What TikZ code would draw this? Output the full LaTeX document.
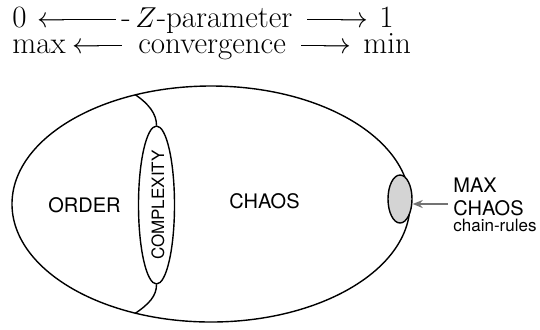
\documentclass[tikz,border=0pt]{standalone}
\usepackage{fontspec}
\newfontfamily\hv{TeX Gyre Heros}
\usetikzlibrary{arrows.meta,shapes.geometric}
\newcommand\arrbar[1]{\rule[3.55pt]{#1}{0.62pt}}
\tikzset{
  line/.style={line width=0.7pt},
  lab/.style={font=\hv\fontsize{10}{11}\selectfont, inner sep=0pt},
  labl/.style={lab, anchor=base west},
  toptext/.style={anchor=base west, inner sep=0pt, font=\fontsize{15.5}{18}\selectfont},
  ell/.style={line, draw, ellipse, inner sep=0pt},
}
\begin{document}
\begin{tikzpicture}[x=0.5pt,y=-0.5pt]
\useasboundingbox (0,0) rectangle (540,329);
% first line
\node[toptext] (z0) at (12,27) {0};
\node[toptext] (zl) at (37,27) {$\leftarrow$\kern-2pt\arrbar{27pt}};
\node[toptext] (zh) at (121,27) {-};
\node[toptext] (zp) at (135,27) {$Z$-parameter};
\node[toptext] (zr) at (307,27) {\arrbar{18pt}\kern-2pt$\rightarrow$};
\node[toptext] (z1) at (379,27) {1};
% second line
\node[toptext] (cmax) at (12,53) {max};
\node[toptext] (cl) at (72,53) {$\leftarrow$\kern-2pt\arrbar{12.5pt}};
\node[toptext] (cc) at (138,53) {convergence};
\node[toptext] (cr2) at (301,53) {\arrbar{12.5pt}\kern-2pt$\rightarrow$};
\node[toptext] (cmin) at (363,53) {min};
% ellipses
\node[ell, minimum width=199pt, minimum height=118pt] (big) at (211,204) {};
\node[ell, minimum width=18pt, minimum height=79pt] (cx) at (156.5,205) {};
\coordinate (etop) at (135,94.5);
\coordinate (ebot) at (135,313.5);
\draw[line] (etop) .. controls (149,104) and (156.5,114) .. (cx.north);
\draw[line] (ebot) .. controls (149,304) and (156.5,296) .. (cx.south);
\node[ell, fill=black!17, minimum width=12pt, minimum height=24pt] (mx) at (400,199) {};
% labels
\node[lab, rotate=90, font=\hv\fontsize{8.5}{10}\selectfont] (cxl) at (158,205) {COMPLEXITY};
\node[lab] (order) at (84.5,205) {ORDER};
\node[lab] (chaos) at (264.5,201.5) {CHAOS};
\node[labl] (mmax) at (453,192.5) {MAX};
\node[labl] (mchaos) at (453,215) {CHAOS};
\node[labl, font=\hv\fontsize{8.5}{10}\selectfont] (cr) at (453,231.5) {chain-rules};
\coordinate (as) at (448,204);
\draw[line width=0.8pt, black!55, -{Stealth[length=5pt,width=4pt]}] (as) -- (mx.east |- as);
\end{tikzpicture}
\end{document}
